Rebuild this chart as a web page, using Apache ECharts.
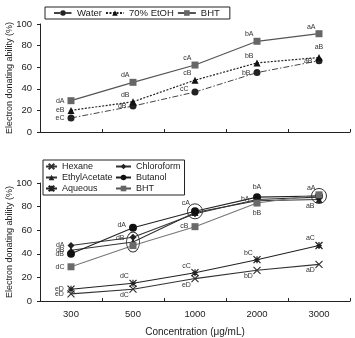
<!DOCTYPE html>
<html><head><meta charset="utf-8">
<script src="https://cdn.jsdelivr.net/npm/echarts@6/dist/echarts.min.js"></script>
<style>html,body{margin:0;padding:0;background:#fff}#c{width:355px;height:338px}</style>
</head><body><div id="c"></div>
<script>
// ---- data ----
const categories = ['300', '500', '1000', '2000', '3000'];
// top panel
const water = [13, 24, 37, 55, 66];
const etoh = [20, 28, 48, 64, 69];
const bhtTop = [29, 46, 62, 84, 91];
const waterLetters = ['eC', 'dB', 'cC', 'bB', 'aB'];
const etohLetters = ['eB', 'dB', 'cB', 'bB', 'aB'];
const bhtTopLetters = ['dA', 'dA', 'cA', 'bA', 'aA'];
const arrowTop = [41, 114];
// bottom panel
const hexane = [6, 10, 19, 26, 31];
const chloroform = [47, 54, 74, 86, 88];
const ethylAcetate = [43, 50, 75, 85, 86];
const butanol = [40, 62, 76, 88, 89];
const aqueous = [10, 15, 24, 35, 47];
const bhtBottom = [29, 47, 63, 83, 90];
const hexaneLetters = ['eD', 'dC', 'eD', 'bD', 'aD'];
const chloroformLetters = ['dA', 'dB', '', 'bA', ''];
const ethylAcetateLetters = ['dB', '', '', '', 'aB'];
const butanolLetters = ['dB', 'dA', 'cA', 'bA', ''];
const aqueousLetters = ['eD', 'dC', 'cC', 'bC', 'aC'];
const bhtBottomLetters = ['dC', '', 'cB', 'bB', 'aA'];
const arrowBottom = [55, 118];
const circled = [['500', 50, 'ellipse'], ['1000', 76, 'circle'], ['3000', 89, 'circle']];

// ---- styles ----
const FONT = 'Liberation Sans';
const lblStyle = {fontSize: 7, color: '#333', fontFamily: FONT};
function labelled(values, letters, pos) {
  return values.map((v, i) => {
    const p = pos[i] || ['left', [0, 0]];
    return letters[i] ? {value: v, label: Object.assign({show: true, formatter: letters[i], position: p[0], offset: p[1], distance: 3}, lblStyle)} : {value: v};
  });
}
const L = ['left', [0, 0]];
const UL = ['left', [3, -7]];
const DL = ['left', [3, 6]];
const T = ['top', [0, 0]];
const B = ['bottom', [0, 0]];

const xPath = 'path://M0,0L10,10M10,0L0,10';
const starPath = 'path://M0,0L10,10M10,0L0,10M5,0L5,10M1,5L9,5';

function arrowLine(vals) {
  return {
    silent: true, symbol: ['none', 'arrow'], symbolSize: [5, 7],
    lineStyle: {color: '#8a8a8a', width: 1, type: 'solid'},
    label: {show: false},
    data: [[{coord: [categories[0], vals[0]]}, {coord: [categories[4], vals[1]]}]]
  };
}

const yAxisBase = {
  type: 'value', min: 0, max: 100, interval: 20,
  name: 'Electron donating ability (%)', nameLocation: 'middle', nameGap: 26,
  nameMoveOverlap: false,
  nameTextStyle: {fontSize: 9, color: '#222', fontFamily: FONT},
  axisLine: {show: true, lineStyle: {color: '#222', width: 1}},
  axisTick: {show: true, length: 3, lineStyle: {color: '#222'}},
  axisLabel: {fontSize: 9.5, color: '#222', fontFamily: FONT, margin: 8},
  splitLine: {show: false}
};
const xAxisBase = {
  type: 'category', data: categories, boundaryGap: true,
  axisLine: {lineStyle: {color: '#222', width: 1}},
  axisTick: {show: true, inside: true, length: 3, lineStyle: {color: '#222'}},
  splitLine: {show: false}
};

const option = {
  animation: false,
  textStyle: {fontFamily: FONT},
  grid: [
    {left: 40, top: 24, width: 310, height: 108, containLabel: false, outerBoundsMode: 'none'},
    {left: 40, top: 183, width: 310, height: 118, containLabel: false, outerBoundsMode: 'none'}
  ],
  xAxis: [
    Object.assign({}, xAxisBase, {gridIndex: 0, axisLabel: {show: false}}),
    Object.assign({}, xAxisBase, {gridIndex: 1,
      axisLabel: {fontSize: 9.5, color: '#222', fontFamily: FONT, margin: 8},
      name: 'Concentration (μg/mL)', nameLocation: 'middle', nameGap: 26, nameMoveOverlap: false,
      nameTextStyle: {fontSize: 10, color: '#222', fontFamily: FONT}})
  ],
  yAxis: [
    Object.assign({}, yAxisBase, {gridIndex: 0}),
    Object.assign({}, yAxisBase, {gridIndex: 1})
  ],
  legend: [
    {data: ['Water', '70% EtOH', 'BHT'], left: 45, top: 7, orient: 'horizontal',
     itemWidth: 18, itemHeight: 7, itemGap: 3,
     padding: [1, 10, 1, 8], borderColor: '#222', borderWidth: 1,
     textStyle: {fontSize: 9.5, color: '#222', fontFamily: FONT}},
    {data: ['Hexane', 'EthylAcetate', 'Aqueous'], left: 43, top: 160, orient: 'vertical',
     itemWidth: 11, itemHeight: 7, itemGap: 2,
     padding: [2, 72, 2, 2], borderColor: '#222', borderWidth: 1,
     textStyle: {fontSize: 9, color: '#222', fontFamily: FONT, lineHeight: 9}},
    {data: ['Chloroform', 'Butanol', 'BHT'], left: 115, top: 162, orient: 'vertical',
     itemWidth: 15, itemHeight: 7, itemGap: 2, padding: 0,
     textStyle: {fontSize: 9, color: '#222', fontFamily: FONT, lineHeight: 9}}
  ],
  series: [
    {name: 'Water', type: 'line', xAxisIndex: 0, yAxisIndex: 0,
     data: labelled(water, waterLetters, [L, L, ['left', [0, -3]], L, L]),
     symbol: 'circle', symbolSize: 7, itemStyle: {color: '#222'},
     lineStyle: {color: '#444', width: 1, type: [6, 2, 1.5, 2]}},
    {name: '70% EtOH', type: 'line', xAxisIndex: 0, yAxisIndex: 0,
     data: labelled(etoh, etohLetters, [L, UL, UL, UL, T]),
     symbol: 'triangle', symbolSize: 7, itemStyle: {color: '#111'},
     lineStyle: {color: '#222', width: 1.2, type: [2, 1.5]}},
    {name: 'BHT', type: 'line', xAxisIndex: 0, yAxisIndex: 0,
     data: labelled(bhtTop, bhtTopLetters, [L, UL, UL, UL, UL]),
     symbol: 'rect', symbolSize: 7, itemStyle: {color: '#666'},
     lineStyle: {color: '#555', width: 1.2},
     markLine: arrowLine(arrowTop)},
    // bottom
    {name: 'Hexane', type: 'line', xAxisIndex: 1, yAxisIndex: 1,
     data: labelled(hexane, hexaneLetters, [L, DL, DL, DL, DL]),
     symbol: xPath, symbolSize: 7,
     itemStyle: {color: 'rgba(0,0,0,0)', borderColor: '#333', borderWidth: 1.2},
     lineStyle: {color: '#333', width: 1.1}},
    {name: 'Chloroform', type: 'line', xAxisIndex: 1, yAxisIndex: 1,
     data: labelled(chloroform, chloroformLetters, [L, ['left', [-2, 1]], L, ['left', [-1, 0]], L]),
     symbol: 'diamond', symbolSize: 7, itemStyle: {color: '#222'},
     lineStyle: {color: '#333', width: 1.1}},
    {name: 'EthylAcetate', type: 'line', xAxisIndex: 1, yAxisIndex: 1,
     data: labelled(ethylAcetate, ethylAcetateLetters, [L, L, L, L, ['left', [2, 7]]]),
     symbol: 'triangle', symbolSize: 7, itemStyle: {color: '#222'},
     lineStyle: {color: '#333', width: 1.1}},
    {name: 'Butanol', type: 'line', xAxisIndex: 1, yAxisIndex: 1,
     data: labelled(butanol, butanolLetters, [L, ['left', [0, -3]], ['left', [2, -8]], T, L]),
     symbol: 'circle', symbolSize: 8, itemStyle: {color: '#111'},
     lineStyle: {color: '#222', width: 1.1},
     markPoint: {silent: true, label: {show: false},
       itemStyle: {color: 'rgba(0,0,0,0)', borderColor: '#333', borderWidth: 1},
       data: circled.map(c => ({coord: [c[0], c[1]], symbol: 'circle', symbolSize: c[2] === 'ellipse' ? [13, 20] : 15}))}},
    {name: 'Aqueous', type: 'line', xAxisIndex: 1, yAxisIndex: 1,
     data: labelled(aqueous, aqueousLetters, [L, UL, UL, UL, UL]),
     symbol: starPath, symbolSize: 7,
     itemStyle: {color: 'rgba(0,0,0,0)', borderColor: '#222', borderWidth: 1.2},
     lineStyle: {color: '#222', width: 1.1}},
    {name: 'BHT', type: 'line', xAxisIndex: 1, yAxisIndex: 1,
     data: labelled(bhtBottom, bhtBottomLetters, [L, L, ['left', [0, -1]], B, ['left', [3, -7]]]),
     symbol: 'rect', symbolSize: 7, itemStyle: {color: '#6a6a6a'},
     lineStyle: {color: '#777', width: 1.1},
     markLine: arrowLine(arrowBottom)}
  ]
};
const chart = echarts.init(document.getElementById('c'), null, {renderer: 'canvas'});
chart.setOption(option);
</script>
</body></html>
